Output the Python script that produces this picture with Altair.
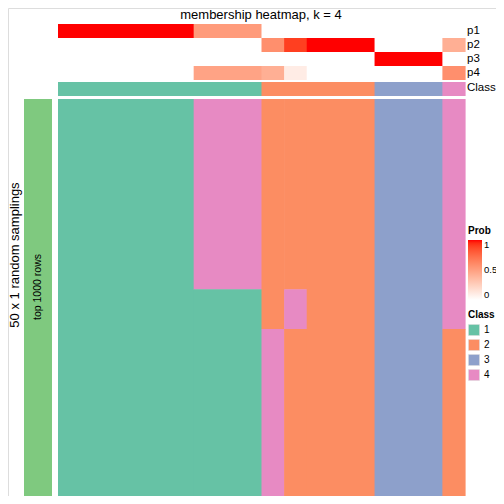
import altair as alt
import pandas as pd

FONT = "Liberation Sans"

# ---- data ----
columns = list(range(18))
class_names = ["1", "2", "3", "4"]
class_colors = ["#66C2A5", "#FC8D62", "#8DA0CB", "#E78AC3"]
col_class = ["1"] * 9 + ["2"] * 5 + ["3"] * 3 + ["4"]

tracks = ["p1", "p2", "p3", "p4"]
p1 = [1, 1, 1, 1, 1, 1, 0.52, 0.52, 0.52, 0, 0, 0, 0, 0, 0, 0, 0, 0]
p2 = [0, 0, 0, 0, 0, 0, 0, 0, 0, 0.58, 0.9, 1, 1, 1, 0, 0, 0, 0.42]
p3 = [0, 0, 0, 0, 0, 0, 0, 0, 0, 0, 0, 0, 0, 0, 1, 1, 1, 0]
p4 = [0, 0, 0, 0, 0, 0, 0.48, 0.48, 0.48, 0.42, 0.1, 0, 0, 0, 0, 0, 0, 0.58]

n_samplings = 50
# per column: runs of (class, number of sampling rows), from top to bottom
col_runs = (
    [[("1", 50)]] * 6
    + [[("4", 24), ("1", 26)]] * 3
    + [[("2", 29), ("4", 21)]]
    + [[("2", 24), ("4", 5), ("2", 21)]]
    + [[("2", 50)]] * 3
    + [[("3", 50)]] * 3
    + [[("4", 29), ("2", 21)]]
)


def merge_cols(values):
    """Group consecutive columns that carry the same value (avoids hairline seams)."""
    groups = []
    for c, v in zip(columns, values):
        if groups and groups[-1]["v"] == v:
            groups[-1]["c2"] = c + 1
        else:
            groups.append({"c": c, "c2": c + 1, "v": v})
    return groups


# ---- tables ----
prob_rows = []
for k, (name, vals) in enumerate(zip(tracks, [p1, p2, p3, p4])):
    for g in merge_cols(vals):
        prob_rows.append({"track": name, "k": k, "k2": k + 1, "c": g["c"], "c2": g["c2"],
                          "prob": g["v"]})
prob_df = pd.DataFrame(prob_rows)

class_df = pd.DataFrame([{"c": g["c"], "c2": g["c2"], "cls": g["v"], "r": 0, "r2": 1}
                         for g in merge_cols(col_class)])

main_rows = []
for g in merge_cols(col_runs):
    start = 0
    for cls, n in g["v"]:
        main_rows.append({"c": g["c"], "c2": g["c2"], "r": start, "r2": start + n, "cls": cls})
        start += n
main_df = pd.DataFrame(main_rows)

bar_df = pd.DataFrame({"a": [0], "a2": [1], "r": [0], "r2": [n_samplings]})

# ---- layout (plot coordinates) ----
XR = [50, 457]
x_cols = alt.Scale(domain=[0, 18], range=XR)

prob_layer = alt.Chart(prob_df).mark_rect(x2Offset=0.6).encode(
    x=alt.X("c:Q", scale=x_cols, axis=None),
    x2="c2:Q",
    y=alt.Y("k:Q", scale=alt.Scale(domain=[0, 4], range=[16, 72]), axis=None),
    y2="k2:Q",
    color=alt.Color("prob:Q",
                    scale=alt.Scale(domain=[0, 1], range=["white", "red"], interpolate="lab"),
                    legend=alt.Legend(title="Prob", orient="none", legendX=460, legendY=218,
                                      type="gradient",
                                      direction="vertical", gradientLength=60,
                                      gradientThickness=14, values=[0, 0.5, 1], format="~g",
                                      titleFontSize=10, titleFont=FONT, titleFontWeight="bold",
                                      labelFontSize=9.5, labelFont=FONT, labelColor="black",
                                      titleColor="black", titlePadding=4, labelOffset=2,
                                      gradientStrokeWidth=0)),
)

class_layer = alt.Chart(class_df).mark_rect(x2Offset=0.6).encode(
    x=alt.X("c:Q", scale=x_cols, axis=None),
    x2="c2:Q",
    y=alt.Y("r:Q", scale=alt.Scale(domain=[0, 1], range=[74, 88]), axis=None),
    y2="r2:Q",
    color=alt.Color("cls:N", scale=alt.Scale(domain=class_names, range=class_colors), legend=None),
)

main_layer = alt.Chart(main_df).mark_rect(x2Offset=0.6, y2Offset=0.6).encode(
    x=alt.X("c:Q", scale=x_cols, axis=None),
    x2="c2:Q",
    y=alt.Y("r:Q", scale=alt.Scale(domain=[0, n_samplings], range=[91, 487.4]), axis=None),
    y2="r2:Q",
    color=alt.Color("cls:N", scale=alt.Scale(domain=class_names, range=class_colors),
                    legend=alt.Legend(title="Class", orient="none", legendX=460, legendY=302,
                                      symbolType="square", symbolSize=121,
                                      symbolStrokeColor="#dddddd", symbolStrokeWidth=0.5,
                                      titleFontSize=10, titleFont=FONT, titleFontWeight="bold",
                                      labelFontSize=10, labelFont=FONT, labelColor="black",
                                      titleColor="black", titlePadding=4, rowPadding=1,
                                      labelOffset=4)),
)

bar_layer = alt.Chart(bar_df).mark_rect(color="#7FC97F").encode(
    x=alt.X("a:Q", scale=alt.Scale(domain=[0, 1], range=[16, 44]), axis=None),
    x2="a2:Q",
    y=alt.Y("r:Q", scale=alt.Scale(domain=[0, n_samplings], range=[91, 488]), axis=None),
    y2="r2:Q",
)

label_df = pd.DataFrame({"name": tracks + ["Class"], "pos": [0.5, 1.5, 2.5, 3.5, 4.57]})
label_layer = alt.Chart(label_df).mark_text(align="left", baseline="middle", font=FONT,
                                            fontSize=11.5, color="black").encode(
    x=alt.value(459),
    y=alt.Y("pos:Q", scale=alt.Scale(domain=[0, 4], range=[16, 72]), axis=None),
    text="name:N",
)

title_layer = alt.Chart(pd.DataFrame({"t": ["membership heatmap, k = 4"]})).mark_text(
    align="center", baseline="alphabetic", font=FONT, fontSize=13, color="black").encode(
    x=alt.value(253), y=alt.value(11), text="t:N")

row_title_layer = alt.Chart(pd.DataFrame({"t": ["50 x 1 random samplings"]})).mark_text(
    align="center", baseline="alphabetic", angle=270, font=FONT, fontSize=13, color="black").encode(
    x=alt.value(11), y=alt.value(247), text="t:N")

bar_text_layer = alt.Chart(pd.DataFrame({"t": ["top 1000 rows"]})).mark_text(
    align="center", baseline="middle", angle=270, font=FONT, fontSize=10.5, color="black").encode(
    x=alt.value(30), y=alt.value(279), text="t:N")

chart = alt.layer(
    prob_layer, class_layer, main_layer, bar_layer,
    label_layer, title_layer, row_title_layer, bar_text_layer,
).resolve_scale(
    x="independent", y="independent", color="independent"
).properties(
    width=488, height=488, padding=0, autosize=alt.AutoSizeParams(type="none"),
    background="white",
).configure_view(strokeWidth=0).configure(font=FONT)

chart.save("out.html", embed_options={"renderer": "svg", "actions": False})
